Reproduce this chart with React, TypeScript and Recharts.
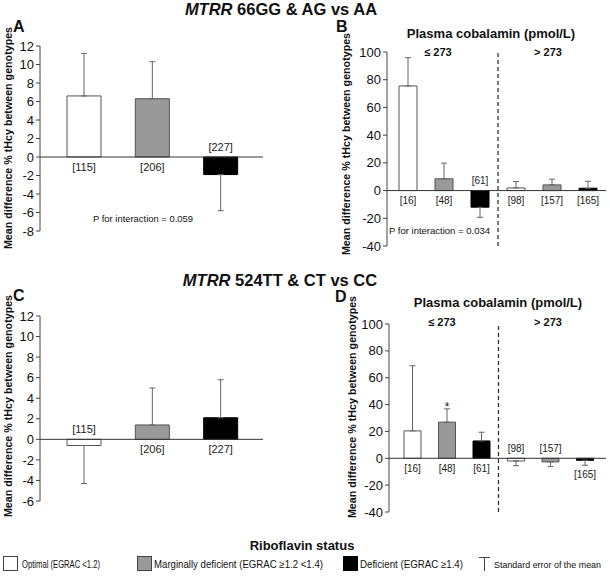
import React from 'react';
import {
    BarChart,
    Bar,
    XAxis,
    YAxis,
    Cell,
    ErrorBar,
    LabelList,
    ReferenceLine,
} from 'recharts';

// Riboflavin status of each bar, repeated per cobalamin group
const statusByGenotype = ['optimal', 'marginal', 'deficient'];
const statusByCobalamin = ['optimal', 'marginal', 'deficient', 'optimal', 'marginal', 'deficient'];

// Panel A: MTRR 66GG & AG vs AA
const nA = ['[115]', '[206]', '[227]'];
const meanA = [6.6, 6.3, -1.9];
const seA = [4.6, 4.0, 3.9];

// Panel B: MTRR 66 by plasma cobalamin
const nB = ['[16]', '[48]', '[61]', '[98]', '[157]', '[165]'];
const meanB = [75.5, 8.5, -12, 1.9, 4.1, 1.7];
const seB = [20.4, 11.3, 7.3, 4.6, 4.1, 5.0];

// Panel C: MTRR 524TT & CT vs CC
const nC = ['[115]', '[206]', '[227]'];
const meanC = [-0.6, 1.4, 2.1];
const seC = [3.7, 3.6, 3.7];

// Panel D: MTRR 524 by plasma cobalamin
const nD = ['[16]', '[48]', '[61]', '[98]', '[157]', '[165]'];
const meanD = [20.4, 26.9, 12.9, -2.0, -2.7, -1.5];
const seD = [48.5, 9.9, 6.5, 3.5, 3.5, 3.7];
const sigD = ['', '*', '', '', '', ''];

const ticksA = [-8, -6, -4, -2, 0, 2, 4, 6, 8, 10, 12];
const ticksC = [-6, -4, -2, 0, 2, 4, 6, 8, 10, 12];
const ticksCob = [-40, -20, 0, 20, 40, 60, 80, 100];

const FONT = '"Liberation Sans", Arial, Helvetica, sans-serif';

const fills: Record<string, string> = {
    optimal: '#ffffff',
    marginal: '#999999',
    deficient: '#000000',
};

type Row = { n: string; mean: number; se: number; err: number[]; status: string; sig: string };

const buildRows = (n: string[], mean: number[], se: number[], status: string[], sig?: string[]): Row[] =>
    n.map((label, i) => ({
        n: label,
        mean: mean[i],
        se: se[i],
        // one-sided error: up for positive bars, down for negative ones
        err: mean[i] >= 0 ? [0, se[i]] : [se[i], 0],
        status: status[i],
        sig: sig ? sig[i] : '',
    }));

const rowsA = buildRows(nA, meanA, seA, statusByGenotype);
const rowsB = buildRows(nB, meanB, seB, statusByCobalamin);
const rowsC = buildRows(nC, meanC, seC, statusByGenotype);
const rowsD = buildRows(nD, meanD, seD, statusByCobalamin, sigD);

interface PanelProps {
    rows: Row[];
    domain: [number, number];
    ticks: number[];
    left: number;
    top: number;
    width: number;
    height: number;
    margin: { top: number; right: number; bottom: number; left: number };
    padding: { left: number; right: number };
    barSize: number;
    labelSize: number;
    divider?: boolean;
    labelAtErrorEnd?: string[];
}

const Panel: React.FC<PanelProps> = ({
    rows, domain, ticks, left, top, width, height, margin, padding, barSize, labelSize, divider, labelAtErrorEnd = [],
}) => {
    const renderLabel = (props: any) => {
        const vb = props.viewBox ?? props;
        const row = rows.find((r) => r.n === props.value) ?? rows[props.index];
        if (!row || vb == null) return null;
        const y0 = Math.min(vb.y, vb.y + vb.height);
        const y1 = Math.max(vb.y, vb.y + vb.height);
        const cx = vb.x + vb.width / 2;
        const k = (y1 - y0) / Math.abs(row.mean || 1);
        let ty: number;
        if (row.mean >= 0) ty = y1 + 10;
        else if (labelAtErrorEnd.includes(row.n)) ty = y1 + row.se * k + 9;
        else ty = y0 - 10;
        return (
            <g>
                <text x={cx} y={ty} dy="0.35em" textAnchor="middle" fontSize={labelSize} fontFamily={FONT} fill="#222">
                    {row.n}
                </text>
                {row.sig ? (
                    <text x={cx} y={y0 - row.se * k + 2} textAnchor="middle" fontSize={12} fontFamily={FONT} fill="#222">
                        {row.sig}
                    </text>
                ) : null}
            </g>
        );
    };

    return (
        <div style={{ position: 'absolute', left, top }}>
            <BarChart width={width} height={height} data={rows} margin={margin}>
                <XAxis dataKey="n" hide padding={padding} />
                <YAxis
                    domain={domain}
                    ticks={ticks}
                    interval={0}
                    width={30}
                    tickSize={4}
                    allowDataOverflow
                    tick={{ fontSize: 13, fill: '#111', fontFamily: FONT }}
                    axisLine={{ stroke: '#444' }}
                    tickLine={{ stroke: '#444' }}
                />
                <Bar dataKey="mean" barSize={barSize} isAnimationActive={false}>
                    {rows.map((r, i) => (
                        <Cell key={i} fill={fills[r.status]} stroke={r.status === 'deficient' ? '#000' : '#555'} strokeWidth={1} />
                    ))}
                    <ErrorBar dataKey="err" width={3} stroke="#666" strokeWidth={1} direction="y" />
                    <LabelList dataKey="n" content={renderLabel} />
                </Bar>
                <ReferenceLine y={0} stroke="#333" strokeWidth={1} />
                {divider && (
                    <ReferenceLine x={rows[2].n} position="end" stroke="#333" strokeWidth={1.3} strokeDasharray="4 3" />
                )}
            </BarChart>
        </div>
    );
};

const YTitle: React.FC<{ x: number; y: number }> = ({ x, y }) => (
    <text
        transform={`translate(${x},${y}) rotate(-90)`}
        dy="0.35em"
        textAnchor="middle"
        fontSize={10.7}
        fontWeight="bold"
        fontFamily={FONT}
        fill="#111"
    >
        Mean difference % tHcy between genotypes
    </text>
);

const App: React.FC = () => {
    return (
        <div style={{ position: 'absolute', left: 0, top: 0, width: 610, height: 576, background: '#fff', fontFamily: FONT }}>
            <Panel
                rows={rowsA}
                domain={[-8, 12]}
                ticks={ticksA}
                left={0}
                top={0}
                width={270}
                height={242}
                margin={{ top: 46, right: 7, bottom: 11, left: 10 }}
                padding={{ left: 10, right: 8 }}
                barSize={34}
                labelSize={11}
            />
            <Panel
                rows={rowsB}
                domain={[-40, 100]}
                ticks={ticksCob}
                left={345}
                top={0}
                width={265}
                height={256}
                margin={{ top: 52, right: 4, bottom: 10, left: 12 }}
                padding={{ left: 3, right: 0 }}
                barSize={18}
                labelSize={10}
                divider
            />
            <Panel
                rows={rowsC}
                domain={[-6, 12]}
                ticks={ticksC}
                left={0}
                top={270}
                width={270}
                height={242}
                margin={{ top: 46, right: 7, bottom: 11, left: 10 }}
                padding={{ left: 10, right: 8 }}
                barSize={34}
                labelSize={11}
            />
            <Panel
                rows={rowsD}
                domain={[-40, 100]}
                ticks={ticksCob}
                left={345}
                top={270}
                width={265}
                height={254}
                margin={{ top: 54, right: 4, bottom: 12, left: 14 }}
                padding={{ left: 6, right: 4 }}
                barSize={17}
                labelSize={10}
                divider
                labelAtErrorEnd={['[165]']}
            />

            <svg width={610} height={576} style={{ position: 'absolute', left: 0, top: 0, pointerEvents: 'none' }}>
                <g fontFamily={FONT} fill="#111">
                    {/* headings */}
                    <text x={281} y={15} textAnchor="middle" fontSize={16.5} fontWeight="bold">
                        <tspan fontStyle="italic">MTRR</tspan>{' 66GG & AG vs AA'}
                    </text>
                    <text x={280} y={286} textAnchor="middle" fontSize={16.5} fontWeight="bold">
                        <tspan fontStyle="italic">MTRR</tspan>{' 524TT & CT vs CC'}
                    </text>

                    {/* panel letters */}
                    <text x={13} y={32} fontSize={16} fontWeight="bold">A</text>
                    <text x={336} y={32} fontSize={16} fontWeight="bold">B</text>
                    <text x={13} y={301} fontSize={16} fontWeight="bold">C</text>
                    <text x={335} y={302} fontSize={16} fontWeight="bold">D</text>

                    <YTitle x={8} y={138} />
                    <YTitle x={346} y={144} />
                    <YTitle x={8} y={406} />
                    <YTitle x={352} y={407} />

                    {/* cobalamin group headers */}
                    <text x={491} y={38} textAnchor="middle" fontSize={13} fontWeight="bold">Plasma cobalamin (pmol/L)</text>
                    <text x={438} y={56} textAnchor="middle" fontSize={11} fontWeight="bold">≤ 273</text>
                    <text x={548} y={56} textAnchor="middle" fontSize={11} fontWeight="bold">&gt; 273</text>
                    <text x={498} y={307} textAnchor="middle" fontSize={13} fontWeight="bold">Plasma cobalamin (pmol/L)</text>
                    <text x={442} y={326} textAnchor="middle" fontSize={11} fontWeight="bold">≤ 273</text>
                    <text x={548} y={326} textAnchor="middle" fontSize={11} fontWeight="bold">&gt; 273</text>

                    {/* interaction p-values */}
                    <text x={93} y={219} dy="0.35em" fontSize={9.8} textLength={100} lengthAdjust="spacingAndGlyphs">P for interaction = 0.059</text>
                    <text x={389} y={231} dy="0.35em" fontSize={9.8} textLength={101} lengthAdjust="spacingAndGlyphs">P for interaction = 0.034</text>

                    {/* legend */}
                    <text x={302} y={550} textAnchor="middle" fontSize={13} fontWeight="bold">Riboflavin status</text>
                    <rect x={3.5} y={556.5} width={14} height={14} fill={fills.optimal} stroke="#444" />
                    <text x={22} y={568} fontSize={10.5} textLength={78} lengthAdjust="spacingAndGlyphs">Optimal (EGRAC &lt;1.2)</text>
                    <rect x={137.5} y={556.5} width={14} height={14} fill={fills.marginal} stroke="#444" />
                    <text x={154} y={568} fontSize={10.5} textLength={169} lengthAdjust="spacingAndGlyphs">Marginally deficient (EGRAC ≥1.2 &lt;1.4)</text>
                    <rect x={343.5} y={556.5} width={14} height={14} fill={fills.deficient} stroke="#000" />
                    <text x={360} y={568} fontSize={10.5} textLength={103} lengthAdjust="spacingAndGlyphs">Deficient (EGRAC ≥1.4)</text>
                    <line x1={479} y1={557.5} x2={490} y2={557.5} stroke="#444" />
                    <line x1={484.5} y1={557.5} x2={484.5} y2={571} stroke="#444" />
                    <text x={494} y={568} fontSize={9} textLength={107} lengthAdjust="spacingAndGlyphs">Standard error of the mean</text>
                </g>
            </svg>
        </div>
    );
};

export default App;
